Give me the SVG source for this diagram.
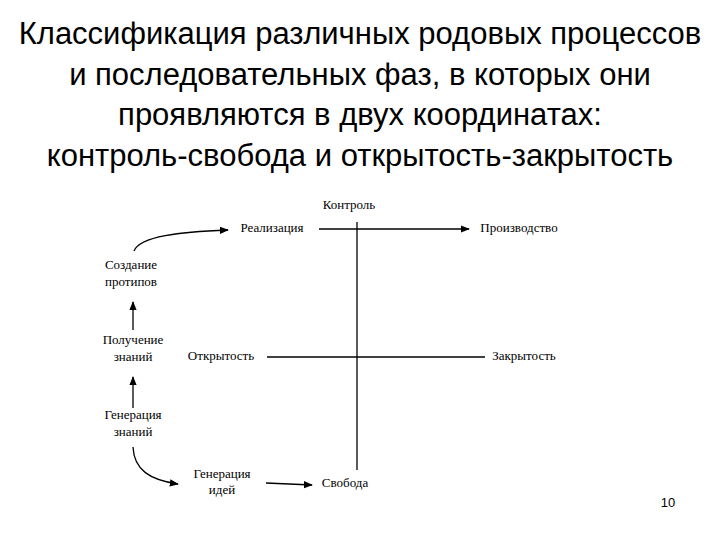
<svg xmlns="http://www.w3.org/2000/svg" width="720" height="540" viewBox="0 0 720 540">
<style>
.t{font-family:"Liberation Sans",Arial,sans-serif;font-size:31px;fill:#000;text-anchor:middle}
.l{font-family:"Liberation Serif","Times New Roman",serif;font-size:13px;fill:#000;text-anchor:middle}
.c{stroke:#000;stroke-width:1.3;fill:none}
</style>
<defs><marker id="a" viewBox="0 0 10 10" refX="9" refY="5" markerWidth="7" markerHeight="7" orient="auto"><path d="M0,1 L10,5 L0,9 z" fill="#000"/></marker></defs>
<rect width="720" height="540" fill="#fff"/>
<g id="title">
<text class="t" x="360" y="44">Классификация различных родовых процессов</text>
<text class="t" x="360" y="85">и последовательных фаз, в которых они</text>
<text class="t" x="360" y="125">проявляются в двух координатах:</text>
<text class="t" x="360" y="166">контроль-свобода и открытость-закрытость</text>
</g>
<g id="connectors">
<line class="c" x1="357" y1="222" x2="357" y2="470"/>
<line class="c" x1="319" y1="229" x2="469" y2="229" marker-end="url(#a)"/>
<line class="c" x1="267" y1="357" x2="485" y2="357"/>
<path class="c" d="M134,251 C140,236 180,232 228,230" marker-end="url(#a)"/>
<line class="c" x1="133" y1="330" x2="133" y2="302" marker-end="url(#a)"/>
<line class="c" x1="133" y1="408" x2="133" y2="377" marker-end="url(#a)"/>
<path class="c" d="M133,447 C134,470 150,480 178,484" marker-end="url(#a)"/>
<line class="c" x1="266" y1="483" x2="312" y2="485" marker-end="url(#a)"/>
</g>
<g id="n-kontrol"><text class="l" x="349" y="209">Контроль</text></g>
<g id="n-real"><text class="l" x="272" y="232">Реализация</text></g>
<g id="n-proizv"><text class="l" x="519" y="232">Производство</text></g>
<g id="n-otkr"><text class="l" x="221" y="360">Открытость</text></g>
<g id="n-zakr"><text class="l" x="524" y="360">Закрытость</text></g>
<g id="n-svob"><text class="l" x="345" y="487">Свобода</text></g>
<g id="n-sozd"><text class="l" x="131" y="269">Создание</text><text class="l" x="131" y="286">протипов</text></g>
<g id="n-polu"><text class="l" x="133" y="344">Получение</text><text class="l" x="133" y="361">знаний</text></g>
<g id="n-genz"><text class="l" x="133" y="419">Генерация</text><text class="l" x="133" y="436">знаний</text></g>
<g id="n-geni"><text class="l" x="222" y="478">Генерация</text><text class="l" x="222" y="494">идей</text></g>
<text x="668" y="507" style="font-family:'Liberation Sans',Arial,sans-serif;font-size:13px;text-anchor:middle">10</text>
</svg>
